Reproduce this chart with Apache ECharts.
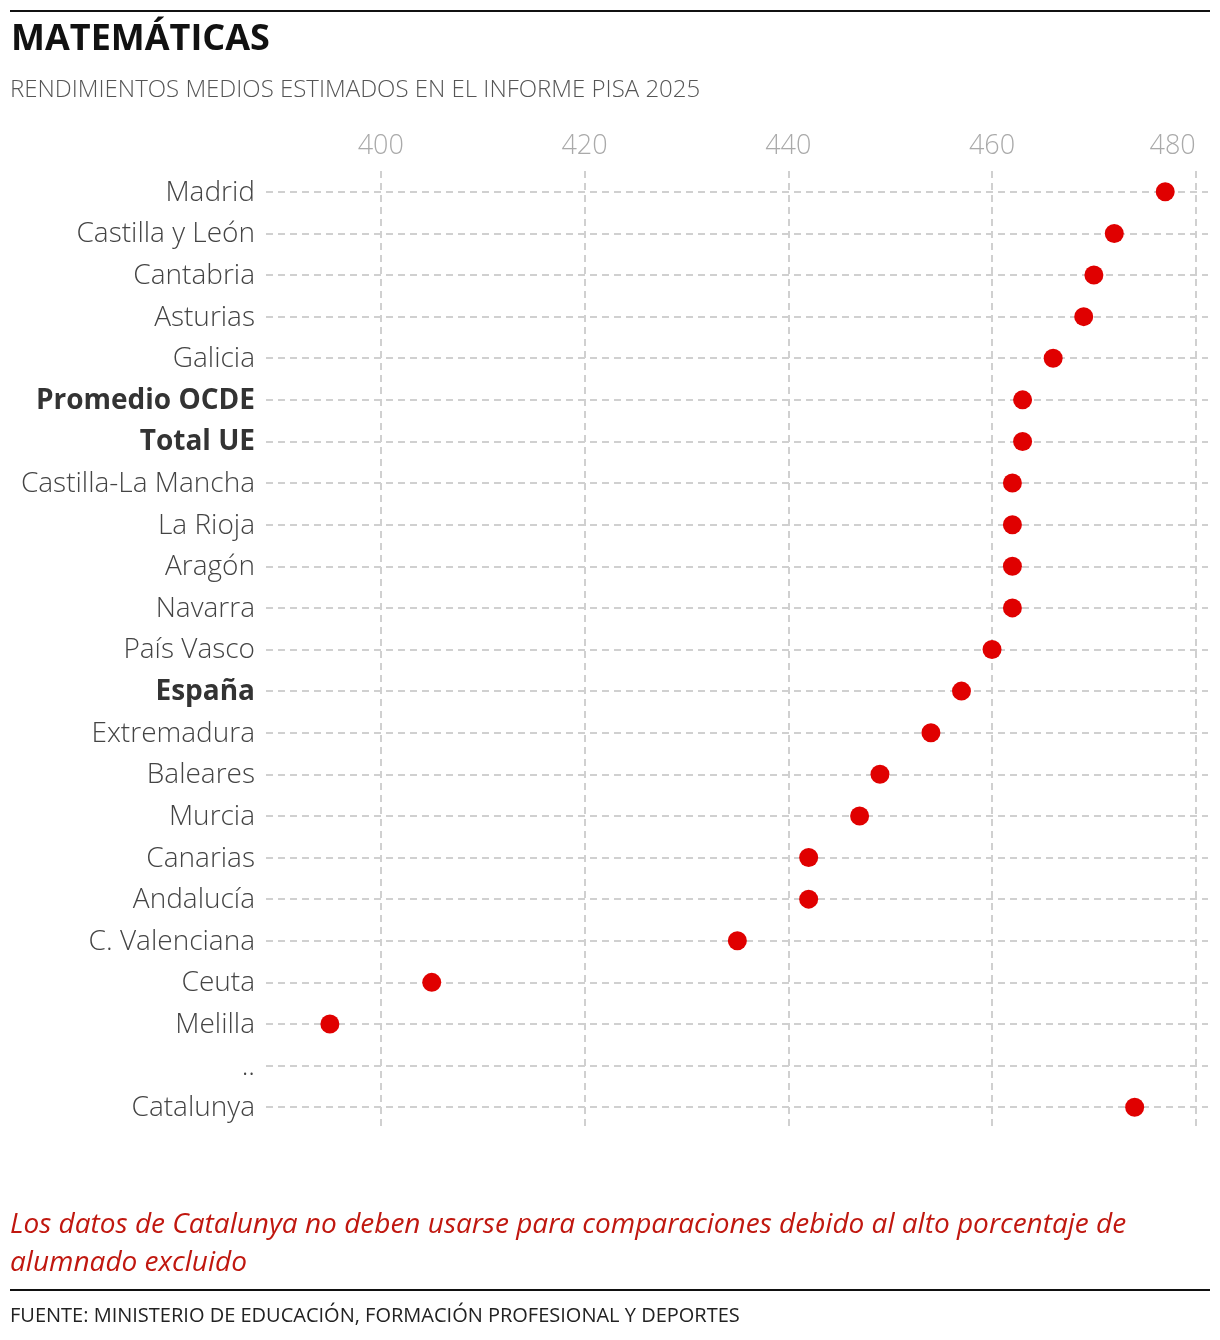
<!doctype html>
<html>
<head>
<meta charset="utf-8">
<title>Matemáticas PISA 2025</title>
<script src="https://cdn.jsdelivr.net/npm/echarts@6/dist/echarts.min.js"></script>
<style>
    html, body { margin: 0; padding: 0; background: #fff; }
    #chart { width: 1220px; height: 1340px; }
</style>
</head>
<body>
<div id="chart"></div>
<script type="text/javascript">
    // datos
    var regiones = ['Madrid', 'Castilla y León', 'Cantabria', 'Asturias', 'Galicia', 'Promedio OCDE', 'Total UE',
        'Castilla-La Mancha', 'La Rioja', 'Aragón', 'Navarra', 'País Vasco', 'España', 'Extremadura', 'Baleares',
        'Murcia', 'Canarias', 'Andalucía', 'C. Valenciana', 'Ceuta', 'Melilla', '..', 'Catalunya'];
    var puntos = [477, 472, 470, 469, 466, 463, 463, 462, 462, 462, 462, 460, 457, 454, 449, 447, 442, 442, 435, 405, 395, null, 474];
    var destacados = ['Promedio OCDE', 'Total UE', 'España'];
    var ticksX = [400, 420, 440, 460, 480];

    var fuente = '"Open Sans", "Noto Sans", sans-serif';
    var gris = '#d0d0d0';

    var lineas = [];
    ticksX.forEach(function (v) { lineas.push({ xAxis: v }); });
    regiones.forEach(function (r) { lineas.push({ yAxis: r }); });

    var myChart = echarts.init(document.getElementById('chart'));
    var option = {
        animation: false,
        backgroundColor: '#fff',
        textStyle: { fontFamily: fuente },
        grid: { left: 266, right: 12, top: 171, bottom: 212 },
        xAxis: {
            type: 'value',
            position: 'top',
            min: 388.73,
            max: 481.2,
            axisLine: { show: false },
            axisTick: { show: false },
            splitLine: { show: false },
            axisLabel: {
                customValues: ticksX,
                alignMaxLabel: 'right',
                color: '#aaaaaa',
                fontSize: 27,
                fontWeight: 300,
                fontFamily: fuente,
                margin: 11
            }
        },
        yAxis: {
            type: 'category',
            inverse: true,
            data: regiones,
            axisLine: { show: false },
            axisTick: { show: false },
            splitLine: { show: false },
            axisLabel: {
                margin: 11,
                fontSize: 28,
                fontFamily: fuente,
                formatter: function (v) {
                    return destacados.indexOf(v) >= 0 ? '{b|' + v + '}' : '{n|' + v + '}';
                },
                rich: {
                    n: { color: '#444', fontSize: 28, fontWeight: 300, fontFamily: fuente, padding: [2, 0, 0, 0] },
                    b: { color: '#333', fontSize: 28, fontWeight: 'bold', fontFamily: fuente, padding: [2, 0, 0, 0] }
                }
            }
        },
        series: [{
            type: 'scatter',
            data: puntos,
            symbolSize: 19,
            itemStyle: { color: '#e00000', opacity: 1 },
            z: 5,
            markLine: {
                silent: true,
                symbol: 'none',
                label: { show: false },
                lineStyle: { color: gris, width: 2, type: [7, 5] },
                data: lineas,
                z: 1
            }
        }],
        graphic: [
            { type: 'rect', left: 10, top: 10, shape: { width: 1200, height: 2 }, style: { fill: '#111' } },
            { type: 'text', left: 11, top: 22, style: { text: 'MATEMÁTICAS', font: 'bold 36px ' + fuente, fill: '#111' } },
            { type: 'text', left: 10, top: 78, style: { text: 'RENDIMIENTOS MEDIOS ESTIMADOS EN EL INFORME PISA 2025', font: '300 24px ' + fuente, fill: '#555' } },
            { type: 'text', left: 10, top: 1211, style: { text: 'Los datos de Catalunya no deben usarse para comparaciones debido al alto porcentaje de', font: 'italic 28px ' + fuente, fill: '#c0170f' } },
            { type: 'text', left: 10, top: 1249, style: { text: 'alumnado excluido', font: 'italic 28px ' + fuente, fill: '#c0170f' } },
            { type: 'rect', left: 10, top: 1289, shape: { width: 1200, height: 2 }, style: { fill: '#111' } },
            { type: 'text', left: 10, top: 1306, style: { text: 'FUENTE: MINISTERIO DE EDUCACIÓN, FORMACIÓN PROFESIONAL Y DEPORTES', font: '20px ' + fuente, fill: '#222' } }
        ]
    };
    myChart.setOption(option);
</script>
</body>
</html>
